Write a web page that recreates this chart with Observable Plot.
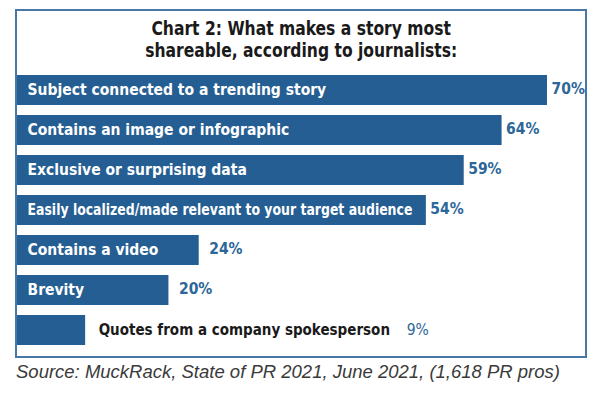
<!DOCTYPE html>
<html>
<head>
<meta charset="utf-8">
<script src="https://cdn.jsdelivr.net/npm/d3@7"></script>
<script src="https://cdn.jsdelivr.net/npm/@observablehq/plot@0.6"></script>
<style>
  html, body { margin: 0; padding: 0; background: #fff; }
  body { width: 600px; height: 397px; position: relative; overflow: hidden; }
  #frame {
    position: absolute; left: 15px; top: 9px;
    width: 568px; height: 345px;
    border: 2px solid #4677a5;
    background: #fff;
  }
  #title {
    height: 48px; padding-top: 6px;
    text-align: center;
    font-family: "DejaVu Sans Condensed", "DejaVu Sans", sans-serif;
    font-stretch: condensed;
    font-weight: bold; font-size: 19px; line-height: 22px;
    color: #1a1a1a;
    transform: scaleX(0.91); transform-origin: 286px 0;
  }
  #caption {
    position: absolute; left: 16px; top: 360px;
    font-family: "Liberation Sans", Arial, sans-serif;
    font-style: italic; font-size: 18.5px; line-height: 23px;
    color: #3a3a3a; white-space: nowrap;
  }
  svg { display: block; }
</style>
</head>
<body>
<div id="frame">
  <div id="title">Chart 2: What makes a story most<br>shareable, according to journalists:</div>
  <div id="chart"></div>
</div>
<div id="caption">Source: MuckRack, State of PR 2021, June 2021, (1,618 PR pros)</div>
<script>
const categories = [
  "Subject connected to a trending story",
  "Contains an image or infographic",
  "Exclusive or surprising data",
  "Easily localized/made relevant to your target audience",
  "Contains a video",
  "Brevity",
  "Quotes from a company spokesperson"
];
const values = [70, 64, 59, 54, 24, 20, 9];
const valueLabels = ["70%", "64%", "59%", "54%", "24%", "20%", "9%"];

const data = categories.map((c, i) => ({label: c, value: values[i], vlabel: valueLabels[i]}));
const inside = data.slice(0, 6);
const outside = data.slice(6);

const barColor = "#245e92";
const valueColor = "#2d6698";
const font = '"DejaVu Sans Condensed", "DejaVu Sans", sans-serif';
const fs = 15.5;

const chart = Plot.plot({
  width: 568,
  height: 291,
  marginLeft: 0,
  marginRight: 38,
  marginTop: 8,
  marginBottom: 9,
  style: {fontFamily: font, fontStretch: "condensed", background: "transparent"},
  x: {domain: [0, 70], axis: null},
  y: {domain: categories, axis: null, paddingInner: 0.26, paddingOuter: 0},
  marks: [
    Plot.barX(data, {x: "value", y: "label", fill: barColor}),
    Plot.text(inside, {x: 0, y: "label", text: "label", textAnchor: "start", dx: 10,
      fill: "white", fontWeight: "bold", fontSize: fs}),
    Plot.text(outside, {x: "value", y: "label", text: "label", textAnchor: "start", dx: 13,
      fill: "#1a1a1a", fontWeight: "bold", fontSize: 15}),
    Plot.text(data.filter(d => d.value >= 50), {x: "value", y: "label", text: "vlabel", textAnchor: "start", dx: 4, dy: -1,
      fill: valueColor, fontWeight: "bold", fontSize: fs}),
    Plot.text(data.filter(d => d.value >= 15 && d.value < 50), {x: "value", y: "label", text: "vlabel", textAnchor: "start", dx: 10, dy: -1,
      fill: valueColor, fontWeight: "bold", fontSize: fs}),
    Plot.text(outside, {x: "value", y: "label", text: "vlabel", textAnchor: "start", dx: 321,
      fill: valueColor, fontWeight: "normal", fontSize: fs})
  ]
});
document.getElementById("chart").appendChild(chart);

// Squeeze an inside label that would overrun its bar (as the original does)
const xs = chart.scale("x");
const byLabel = new Map(inside.map(d => [d.label, d]));
chart.querySelectorAll("text").forEach(t => {
  const d = byLabel.get(t.textContent);
  if (!d) return;
  const start = xs.apply(0) + 10;
  const avail = xs.apply(d.value) - start - 14;
  if (t.getComputedTextLength() > avail) {
    t.setAttribute("textLength", avail);
    t.setAttribute("lengthAdjust", "spacingAndGlyphs");
  }
});
</script>
</body>
</html>
